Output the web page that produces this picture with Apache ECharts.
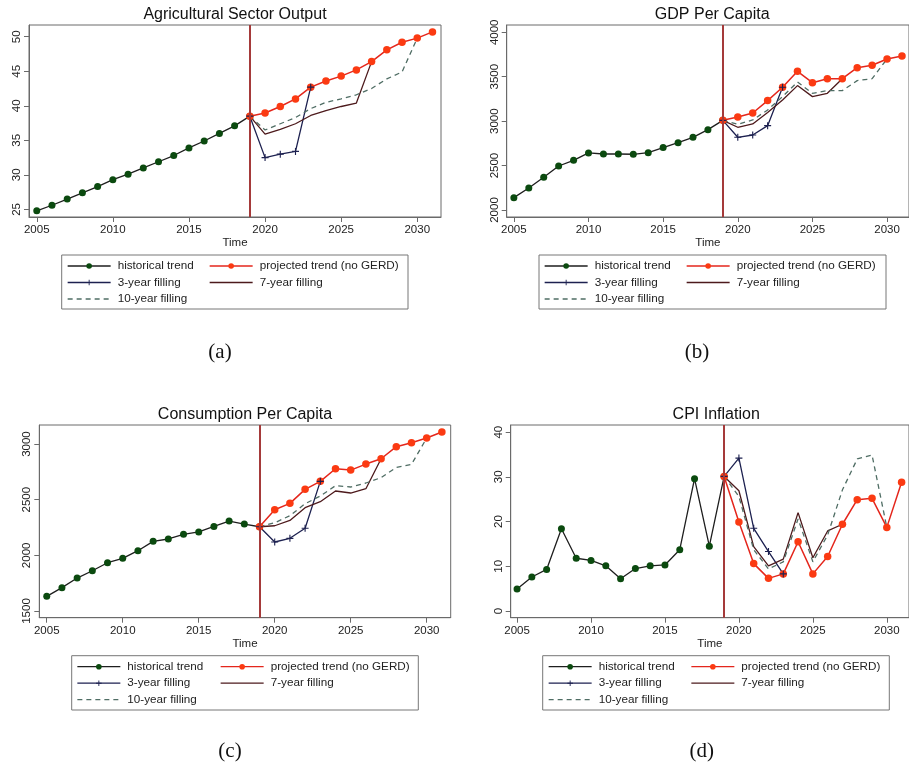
<!DOCTYPE html>
<html><head><meta charset="utf-8">
<script src="https://cdn.jsdelivr.net/npm/echarts@6/dist/echarts.min.js"></script>
<style>html,body{margin:0;padding:0;background:#fff;}#c{width:909px;height:767px;}</style>
</head><body><div id="c"></div>
<script>
// ---- data ----
const histYears = [2005,2006,2007,2008,2009,2010,2011,2012,2013,2014,2015,2016,2017,2018,2019];
const projYears = [2019,2020,2021,2022,2023,2024,2025,2026,2027,2028,2029,2030,2031];
const xTicks = [2005,2010,2015,2020,2025,2030];
const gerdYear = 2019;

const titles = ['Agricultural Sector Output','GDP Per Capita','Consumption Per Capita','CPI Inflation'];
const panelLabels = ['(a)','(b)','(c)','(d)'];
const seriesNames = ['historical trend','projected trend (no GERD)','3-year filling','7-year filling','10-year filling'];

const agriHist = [24.8,25.6,26.5,27.4,28.3,29.3,30.1,31.0,31.9,32.8,33.9,34.9,36.0,37.1,38.5];
const agriProj = [38.5,38.95,39.9,41.0,42.7,43.6,44.3,45.2,46.4,48.1,49.2,49.8,50.7];
const agriF3 = [38.5,32.5,33.0,33.4,42.7];
const agriF7 = [38.5,35.9,36.6,37.4,38.6,39.3,39.9,40.4,46.4];
const agriF10 = [38.5,36.5,37.4,38.3,39.6,40.5,41.0,41.6,42.5,43.9,44.9,49.8];
const agriTicks = [25,30,35,40,45,50];

const gdpHist = [2139,2248,2368,2495,2559,2642,2630,2630,2627,2645,2702,2758,2818,2904,3009];
const gdpProj = [3009,3047,3092,3231,3381,3561,3433,3478,3478,3602,3629,3700,3734];
const gdpF3 = [3009,2818,2844,2949,3381];
const gdpF7 = [3009,2931,2968,3096,3238,3400,3276,3313,3478];
const gdpF10 = [3009,2964,3013,3126,3276,3441,3313,3343,3343,3456,3478,3700];
const gdpTicks = [2000,2500,3000,3500,4000];

const consHist = [1632,1710,1796,1862,1934,1973,2042,2126,2147,2189,2210,2260,2308,2281,2257];
const consProj = [2257,2410,2467,2593,2665,2778,2766,2820,2868,2976,3012,3054,3108];
const consF3 = [2257,2120,2153,2243,2665];
const consF7 = [2257,2266,2314,2428,2482,2578,2560,2599,2868];
const consF10 = [2257,2293,2356,2464,2533,2626,2614,2650,2698,2790,2817,3054];
const consTicks = [1500,2000,2500,3000];

const cpiHist = [4.9,7.6,9.3,18.4,11.8,11.3,10.1,7.2,9.5,10.1,10.3,13.7,29.6,14.5,30.1];
const cpiProj = [30.1,19.9,10.6,7.3,8.3,15.5,8.3,12.2,19.4,24.9,25.2,18.7,28.8];
const cpiF3 = [30.1,34.2,18.5,13.3,8.3];
const cpiF7 = [30.1,26.9,14.4,10.1,11.6,22.0,11.9,17.9,19.4];
const cpiF10 = [30.1,25.6,13.7,9.4,11.0,20.6,11.0,17.0,27.1,34.0,34.9,18.7];
const cpiTicks = [0,10,20,30,40];

// ---- layout / style ----
const FONT = 'Liberation Sans';
const C = {hist:'#1e1e1e', histDot:'#0b4a0f', proj:'#e4261c', projDot:'#fb3a12', f3:'#1d2150', f7:'#4d1a1c', f10:'#4f6d64', vline:'#a53a3a', frame:'#6a6a6a'};
const panels = [
  {hist:agriHist, proj:agriProj, f3:agriF3, f7:agriF7, f10:agriF10, ticks:agriTicks,
   grid:{left:29, top:25, width:412, height:192}, x:[2004.49,2031.56], y:[23.9,51.7], legendTop:259, box:[61.7,255,346.3,54], c1:67, c2:209, label:[220,352]},
  {hist:gdpHist, proj:gdpProj, f3:gdpF3, f7:gdpF7, f10:gdpF10, ticks:gdpTicks,
   grid:{left:506.7, top:25, width:411, height:192}, x:[2004.52,2031.47], y:[1921,4082], legendTop:259, box:[539,255,347,54], c1:544, c2:686, label:[697,352]},
  {hist:consHist, proj:consProj, f3:consF3, f7:consF7, f10:consF10, ticks:consTicks,
   grid:{left:39.3, top:425, width:411.4, height:192.7}, x:[2004.51,2031.58], y:[1440,3171], legendTop:659.7, box:[71.7,655.7,346.6,54.3], c1:76.7, c2:220, label:[230,751.7]},
  {hist:cpiHist, proj:cpiProj, f3:cpiF3, f7:cpiF7, f10:cpiF10, ticks:cpiTicks,
   grid:{left:510.7, top:425, width:411, height:192.7}, x:[2004.57,2031.5], y:[-1.5,41.6], legendTop:659.7, box:[542.7,655.7,346.6,54.3], c1:548, c2:690.7, label:[701.7,751.7]}
];

function pairs(years, vals){ return vals.map((v,i)=>[years[i], v]); }
const plain = v => String(v);
const cross = 'path://M4.2,0H5.8V4.2H10V5.8H5.8V10H4.2V5.8H0V4.2H4.2Z';
const noItem = {color:'rgba(0,0,0,0)', borderColor:'rgba(0,0,0,0)', borderWidth:0};

const option = {animation:false, backgroundColor:'#fff', title:[], grid:[], xAxis:[], yAxis:[], series:[], legend:[], graphic:[]};

panels.forEach((p,i)=>{
  option.grid.push(Object.assign({show:true, borderColor:C.frame, borderWidth:1, backgroundColor:'#fff'}, p.grid));
  option.title.push({text:titles[i], left:p.grid.left + p.grid.width/2, top:p.grid.top-18, textAlign:'center', padding:0,
    textStyle:{fontSize:16, fontWeight:'normal', color:'#111', fontFamily:FONT}});
  option.xAxis.push({type:'value', gridIndex:i, min:p.x[0], max:p.x[1], name:'Time', nameLocation:'middle', nameGap:19,
    nameTextStyle:{fontSize:11.5, color:'#222', fontFamily:FONT},
    axisLine:{show:true, onZero:false, lineStyle:{color:C.frame}},
    axisTick:{show:true, length:5, customValues:xTicks, lineStyle:{color:C.frame}},
    axisLabel:{customValues:xTicks, formatter:plain, fontSize:11.5, color:'#222', fontFamily:FONT, margin:7},
    splitLine:{show:false}});
  option.yAxis.push({type:'value', gridIndex:i, min:p.y[0], max:p.y[1],
    axisLine:{show:true, onZero:false, lineStyle:{color:C.frame}},
    axisTick:{show:true, length:5, customValues:p.ticks, lineStyle:{color:C.frame}},
    axisLabel:{customValues:p.ticks, formatter:plain, rotate:90, fontSize:11.5, color:'#222', fontFamily:FONT, margin:6},
    splitLine:{show:false}});
  const base = {type:'line', xAxisIndex:i, yAxisIndex:i, silent:true, emphasis:{disabled:true}, z:2};
  option.series.push(Object.assign({}, base, {name:seriesNames[0], data:pairs(histYears,p.hist),
    symbol:'circle', symbolSize:7, itemStyle:{color:C.histDot, borderWidth:0}, lineStyle:{color:C.hist, width:1.3},
    markLine:{silent:true, symbol:['none','none'], label:{show:false}, emphasis:{disabled:true},
      lineStyle:{color:C.vline, width:2, type:'solid'}, data:[{xAxis:gerdYear}]}}));
  option.series.push(Object.assign({}, base, {name:seriesNames[1], data:pairs(projYears,p.proj),
    symbol:'circle', symbolSize:7.5, itemStyle:{color:C.projDot, borderWidth:0}, lineStyle:{color:C.proj, width:1.5}}));
  option.series.push(Object.assign({}, base, {name:seriesNames[2], data:pairs(projYears,p.f3),
    symbol:cross, symbolSize:7, itemStyle:{color:C.f3, borderWidth:0}, lineStyle:{color:C.f3, width:1.3}}));
  option.series.push(Object.assign({}, base, {name:seriesNames[3], data:pairs(projYears,p.f7),
    symbol:'circle', showSymbol:false, itemStyle:noItem, lineStyle:{color:C.f7, width:1.3}}));
  option.series.push(Object.assign({}, base, {name:seriesNames[4], data:pairs(projYears,p.f10),
    symbol:'circle', showSymbol:false, itemStyle:noItem, lineStyle:{color:C.f10, width:1.3, type:[5,4]}}));

  const lg = {orient:'vertical', top:p.legendTop, padding:0, itemGap:2.5, itemWidth:43, itemHeight:7,
    selectedMode:false, lineStyle:{width:1.3},
    textStyle:{fontSize:11.7, color:'#222', fontFamily:FONT, lineHeight:14, padding:[0,0,0,2]}};
  option.legend.push(Object.assign({}, lg, {left:p.c1, data:[seriesNames[0], seriesNames[2], seriesNames[4]]}));
  option.legend.push(Object.assign({}, lg, {left:p.c2, data:[seriesNames[1], seriesNames[3]]}));

  option.graphic.push({type:'rect', silent:true, shape:{x:p.box[0], y:p.box[1], width:p.box[2], height:p.box[3]},
    style:{fill:'none', stroke:'#777', lineWidth:1}});
  option.graphic.push({type:'text', silent:true, x:p.label[0], y:p.label[1],
    style:{text:panelLabels[i], font:'21px "Liberation Serif"', fill:'#111', textAlign:'center', textVerticalAlign:'middle'}});
});

const chart = echarts.init(document.getElementById('c'), null, {renderer:'canvas'});
chart.setOption(option);
</script>
</body></html>
